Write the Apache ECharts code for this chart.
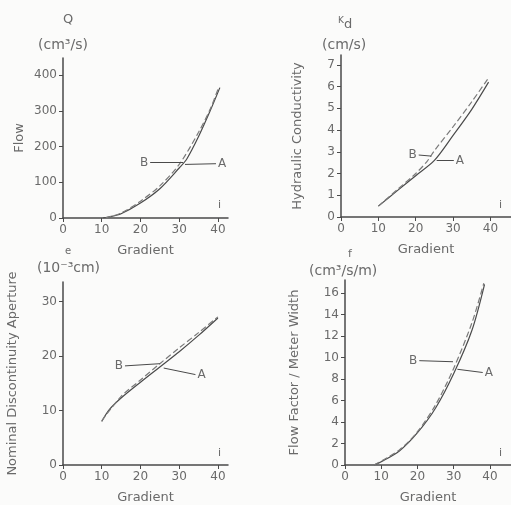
<!DOCTYPE html>
<html>
<head>
<meta charset="utf-8">
<script src="https://cdn.jsdelivr.net/npm/echarts@6/dist/echarts.min.js"></script>
<style>
  html, body { margin: 0; padding: 0; background: #fbfbfa; }
  #main { width: 511px; height: 505px; }
</style>
</head>
<body>
<div id="main"></div>
<script>
// data (gradient i vs. value), A = solid, B = dashed
var gradTicks = [0, 10, 20, 30, 40];

var flowA = [[10.3, 0], [12, 3], [15, 12], [20, 42], [25, 82], [30, 140], [32, 166], [35, 228], [38, 300], [40.5, 365]];
var flowB = [[11, 0], [15, 14], [20, 47], [25, 90], [30, 150], [35, 240], [38, 305], [40, 360]];
var flowTicks = [0, 100, 200, 300, 400];

var condA = [[10, 0.5], [15, 1.2], [20, 1.9], [25, 2.6], [30, 3.75], [35, 4.95], [39.5, 6.2]];
var condB = [[10, 0.5], [15, 1.25], [20, 2.0], [23, 2.55], [25, 3.05], [30, 4.15], [35, 5.3], [39.3, 6.35]];
var condTicks = [0, 1, 2, 3, 4, 5, 6, 7];

var apA = [[10, 8], [12, 10.2], [15, 12.3], [20, 15.2], [25, 18], [30, 20.8], [35, 23.8], [40, 27]];
var apB = [[10, 8.1], [15, 12.6], [20, 15.6], [25, 18.6], [30, 21.5], [35, 24.3], [40, 27.2]];
var apTicks = [0, 10, 20, 30];

var ffA = [[8, 0], [10, 0.3], [15, 1.3], [20, 3], [25, 5.3], [30, 8.5], [35, 12.5], [38.5, 16.8]];
var ffB = [[8, 0], [15, 1.4], [20, 3.1], [25, 5.6], [30, 9.0], [35, 13.2], [38.3, 16.9]];
var ffTicks = [0, 2, 4, 6, 8, 10, 12, 14, 16];

// leader lines for the A / B callouts [label point, curve point]
var leadB = [[[22.5, 155], [31, 156]], [[20.8, 2.85], [24.2, 2.8]], [[16, 18.2], [25, 18.6]], [[20.5, 9.7], [29.8, 9.6]]];
var leadA = [[[31.5, 150], [39.5, 152]], [[25.6, 2.6], [30.2, 2.6]], [[26, 17.8], [34.2, 16.6]], [[31, 8.9], [38, 8.6]]];

var ink = '#4a4a4a';
var txt = '#6a6a6a';
var font = 'DejaVu Sans';

var myChart = echarts.init(document.getElementById('main'));

var grids = [
    {left: 63, top: 58, width: 165, height: 160},
    {left: 341, top: 55, width: 170, height: 162},
    {left: 63, top: 282, width: 165, height: 183},
    {left: 345, top: 280, width: 166, height: 185}
];
var xMax = [42.6, 45.5, 42.6, 45.8];
var yMax = [448, 7.45, 33.6, 17.2];
var yTicks = [flowTicks, condTicks, apTicks, ffTicks];
var yNames = ['Flow', 'Hydraulic Conductivity', 'Nominal Discontinuity Aperture', 'Flow Factor / Meter Width'];
var yGaps = [37, 37, 44, 44];
var seriesA = [flowA, condA, apA, ffA];
var seriesB = [flowB, condB, apB, ffB];

function axisCommon() {
    return {
        type: 'value',
        min: 0,
        splitLine: {show: false},
        axisLine: {lineStyle: {color: ink, width: 1.5}},
        axisTick: {length: 4, lineStyle: {color: ink}},
        axisLabel: {color: txt, fontFamily: font, fontSize: 12, margin: 6}
    };
}

var xAxes = [], yAxes = [], series = [];
for (var k = 0; k < 4; k++) {
    var xa = axisCommon();
    xa.gridIndex = k;
    xa.max = xMax[k];
    xa.axisTick.customValues = gradTicks;
    xa.axisLabel.customValues = gradTicks;
    xa.name = 'Gradient';
    xa.nameLocation = 'middle';
    xa.nameGap = 26;
    xa.nameTextStyle = {color: txt, fontFamily: font, fontSize: 13};
    xAxes.push(xa);

    var ya = axisCommon();
    ya.gridIndex = k;
    ya.max = yMax[k];
    ya.axisTick.customValues = yTicks[k];
    ya.axisLabel.customValues = yTicks[k];
    ya.name = yNames[k];
    ya.nameLocation = 'middle';
    ya.nameRotate = 90;
    ya.nameGap = yGaps[k];
    ya.nameTextStyle = {color: txt, fontFamily: font, fontSize: 13};
    yAxes.push(ya);

    series.push({
        name: 'A',
        type: 'line',
        xAxisIndex: k,
        yAxisIndex: k,
        data: seriesA[k],
        smooth: 0.3,
        symbol: 'none',
        lineStyle: {color: ink, width: 1.2},
        markLine: {
            silent: true,
            symbol: 'none',
            lineStyle: {color: ink, width: 1, type: 'solid'},
            label: {show: true, position: 'end', formatter: 'A', color: txt, fontFamily: font, fontSize: 12, distance: 2},
            data: [[{coord: leadA[k][0]}, {coord: leadA[k][1]}]]
        }
    });
    series.push({
        name: 'B',
        type: 'line',
        xAxisIndex: k,
        yAxisIndex: k,
        data: seriesB[k],
        smooth: 0.3,
        symbol: 'none',
        lineStyle: {color: '#7a7a7a', width: 1.2, type: [6, 3]},
        markLine: {
            silent: true,
            symbol: 'none',
            lineStyle: {color: ink, width: 1, type: 'solid'},
            label: {show: true, position: 'start', formatter: 'B', color: txt, fontFamily: font, fontSize: 12, distance: 2},
            data: [[{coord: leadB[k][0]}, {coord: leadB[k][1]}]]
        }
    });
}

var unitStyle = {color: txt, fontFamily: font, fontSize: 14, fontWeight: 'normal'};
var symStyle = {color: txt, fontFamily: font, fontSize: 13, fontWeight: 'normal'};
var option = {
    backgroundColor: '#fbfbfa',
    animation: false,
    title: [
        {text: 'Q', left: 58, top: 8, textStyle: symStyle},
        {text: '(cm³/s)', left: 33, top: 33, textStyle: unitStyle},
        {text: '{k|K}{d|d}', left: 333, top: 5, textStyle: {rich: {
            k: {color: txt, fontFamily: font, fontSize: 9, fontWeight: 'normal'},
            d: {color: txt, fontFamily: font, fontSize: 13, fontWeight: 'normal', padding: [8, 0, 0, 0]}}}},
        {text: '(cm/s)', left: 317, top: 33, textStyle: unitStyle},
        {text: 'e', left: 60, top: 241, textStyle: {color: txt, fontFamily: font, fontSize: 10, fontWeight: 'normal'}},
        {text: '(10⁻³cm)', left: 32, top: 256, textStyle: unitStyle},
        {text: 'f', left: 343, top: 244, textStyle: {color: txt, fontFamily: font, fontSize: 11, fontWeight: 'normal'}},
        {text: '(cm³/s/m)', left: 304, top: 259, textStyle: unitStyle}
    ],
    graphic: [
        {type: 'text', left: 218, top: 200, style: {text: 'i', fill: txt, font: '11px DejaVu Sans'}},
        {type: 'text', left: 499, top: 200, style: {text: 'i', fill: txt, font: '11px DejaVu Sans'}},
        {type: 'text', left: 218, top: 448, style: {text: 'i', fill: txt, font: '11px DejaVu Sans'}},
        {type: 'text', left: 499, top: 448, style: {text: 'i', fill: txt, font: '11px DejaVu Sans'}}
    ],
    grid: grids.map(function (g) { g.outerBoundsMode = 'none'; return g; }),
    xAxis: xAxes,
    yAxis: yAxes,
    series: series
};
myChart.setOption(option);
</script>
</body>
</html>
